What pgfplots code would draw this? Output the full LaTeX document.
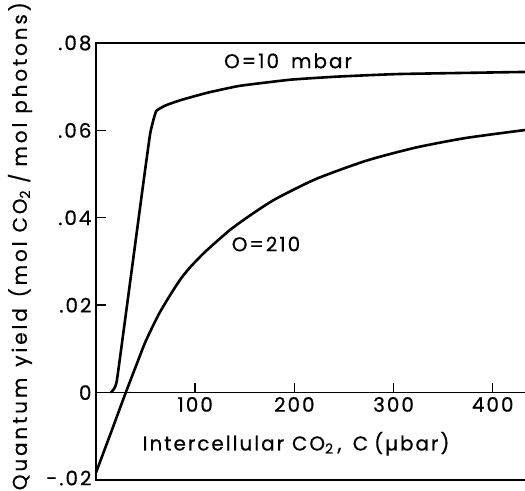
\documentclass[border=0pt]{standalone}
\usepackage{fontspec}
\setmainfont{Poppins}
\newfontfamily\lbl{Poppins}[LetterSpace=10, FakeBold=0.6]
\newfontfamily\ylbl{Poppins}[LetterSpace=14.5, FakeBold=0.6]
\usepackage{pgfplots}
\pgfplotsset{compat=1.18}

% O=10 mbar curve
\pgfplotstableread{
x y
15 0
18 0.0008
21 0.0027
30 0.0178
40 0.0348
48 0.0484
54.5 0.0591
58 0.0625
61 0.0645
70 0.0657
85 0.0669
112 0.0686
145 0.0702
196 0.0716
243 0.0723
306 0.0729
440 0.0734
}\lowox

% O=210 mbar curve
\pgfplotstableread{
x y
0 -0.0183
15 -0.0092
30 0
40 0.0059
50 0.0117
63 0.0178
75 0.0224
86 0.0262
95 0.0287
110 0.0322
135 0.0372
157 0.0408
181 0.0443
222 0.0489
273 0.0531
323 0.0561
374 0.0583
440 0.0603
}\ambient

\newcommand\lblfont{\lbl\fontsize{20}{20}\selectfont}

\begin{document}
\begin{tikzpicture}
\useasboundingbox (0,0) rectangle (525bp,491bp);
\pgfplotsset{
  common/.style={
    at={(96bp,11bp)}, anchor=south west,
    scale only axis, width=436.4bp, height=437bp,
    xmin=0, xmax=440, ymin=-0.02, ymax=0.08,
    clip=false,
    major tick length=10bp,
    tick style={line width=1.4bp, black},
    tick label style={font=\lblfont},
  }
}
\begin{axis}[common,
  axis line style={line width=1.6bp},
  xtick=\empty,
  scaled y ticks=false,
  ytick={-0.02,0,0.02,0.04,0.06,0.08},
  yticklabels={\raisebox{4bp}{-.02},0,.02,.04,.06,.08},
  ytick pos=left, tick align=inside,
  yticklabel style={xshift=-1bp},
]
% horizontal axis line at zero yield
\draw[line width=1.6bp] (axis cs:0,0) -- (axis cs:440,0);
\addplot[line width=2.6bp, black, smooth, tension=0.25] table[x=x,y=y] {\lowox};
\addplot[line width=2.6bp, black, smooth, tension=0.4] table[x=x,y=y] {\ambient};
\node[font=\lblfont] at (axis cs:193.6,0.0759) {O=10\hspace{0.6em}mbar};
\node[font=\lblfont] at (axis cs:171.4,0.0340) {O=210};
\node[font=\lblfont] at (axis cs:201.7,-0.0117)
  {Intercellular\hspace{0.4em}CO\textsubscript{2}\hspace{0.2em}, \hspace{0.2em}C\hspace{0.3em}(µbar)};
\node[font=\ylbl\fontsize{20}{20}\selectfont, rotate=90] at (axis cs:-76.6,0.0335)
  {Quantum\hspace{0.55em}yield\hspace{0.55em}(mol\hspace{0.45em}CO\textsubscript{2}\hspace{0.35em}/\hspace{0.35em}mol\hspace{0.45em}photons)};
\end{axis}
\begin{axis}[common,
  axis x line=middle, axis y line=none,
  axis line style={line width=1.6bp, -},
  xtick={100,200,300,400},
  xticklabels={100,200,300,400},
  ytick=\empty,
  tick align=inside,
  xticklabel style={yshift=-1bp},
]
\end{axis}
\end{tikzpicture}
\end{document}
